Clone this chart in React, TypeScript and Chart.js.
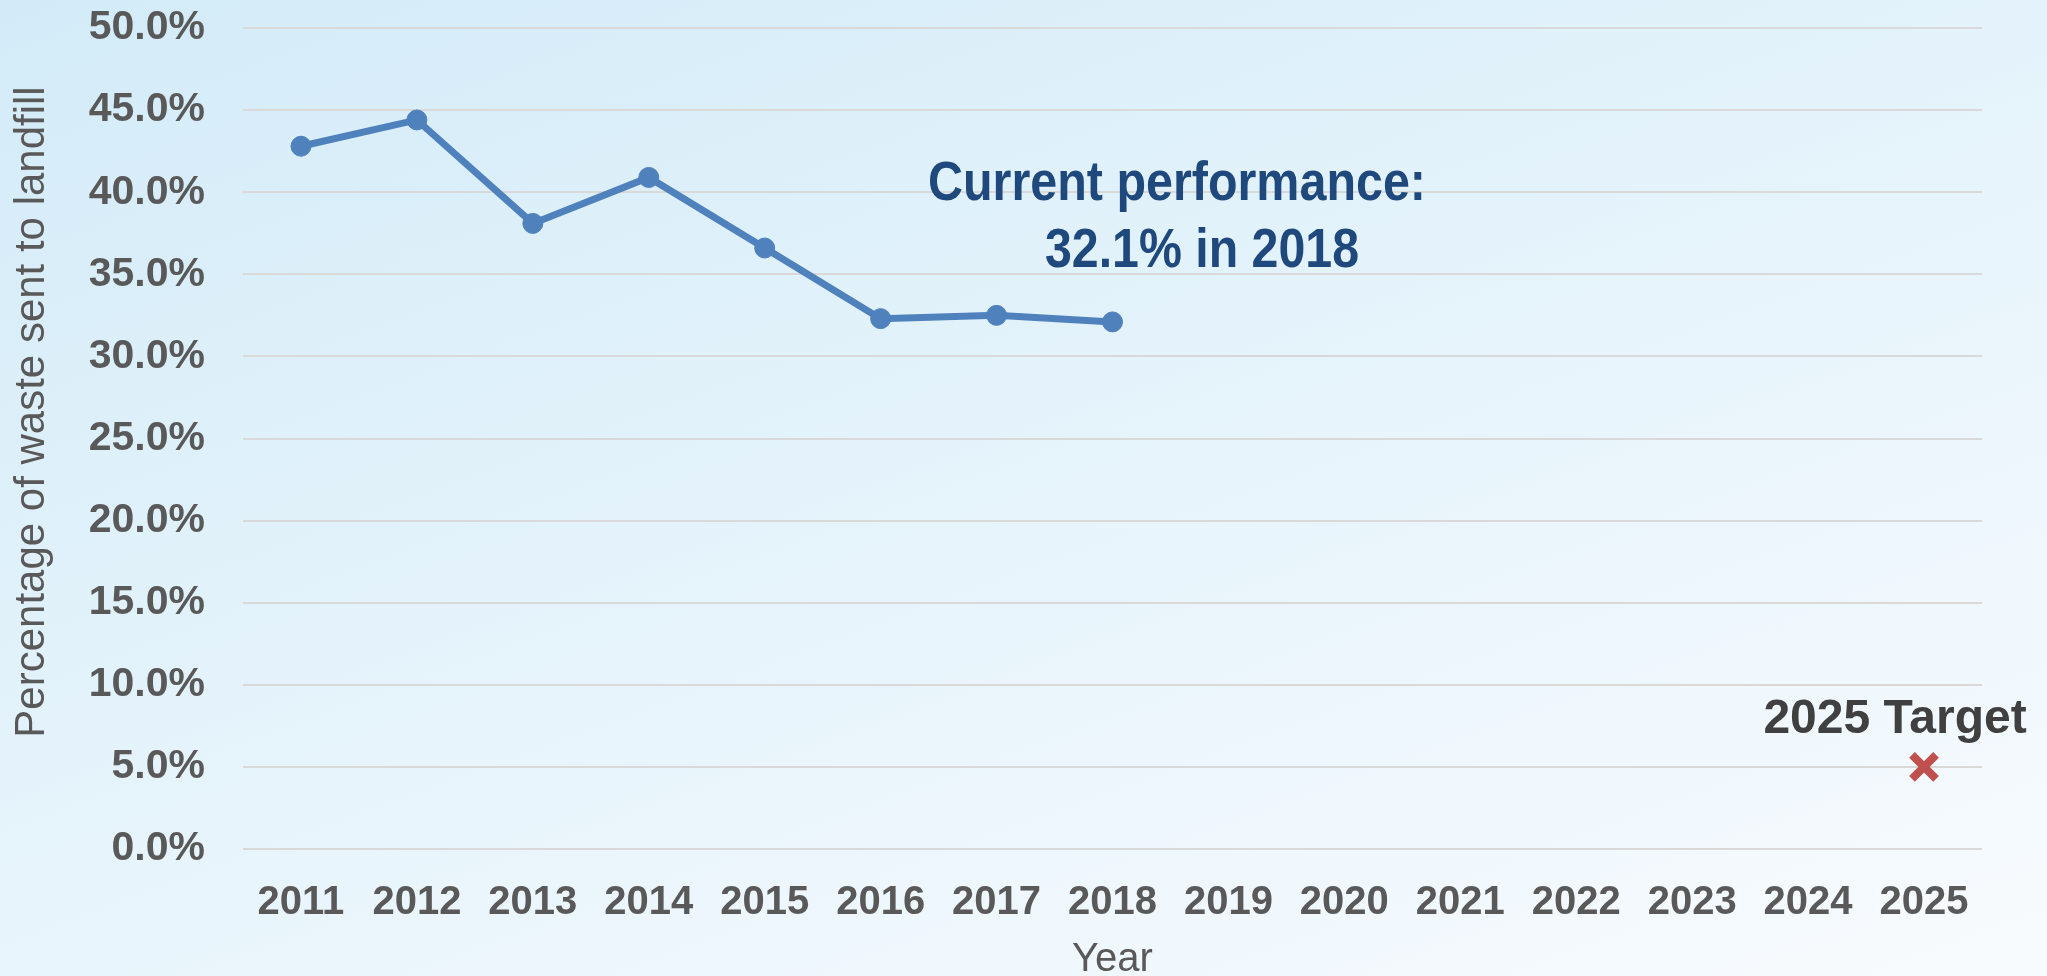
import React, { useEffect, useRef } from "react";
import { Chart, registerables } from "chart.js";

Chart.register(...registerables);

const years = ["2011", "2012", "2013", "2014", "2015", "2016", "2017", "2018", "2019", "2020", "2021", "2022", "2023", "2024", "2025"];
const landfillPct = [42.8, 44.4, 38.1, 40.9, 36.6, 32.3, 32.5, 32.1, null, null, null, null, null, null, null];
const targetPct = [null, null, null, null, null, null, null, null, null, null, null, null, null, null, 5.0];
const yTickMin = 0;
const yTickMax = 50;
const yTickStep = 5;
const yAxisTitle = "Percentage of waste sent to landfill";
const xAxisTitle = "Year";
const currentLabelLines = ["Current performance:", "32.1% in 2018"];
const targetLabel = "2025 Target";

const W = 2047;
const H = 992;
const FONT = "'Liberation Sans', Arial, sans-serif";

const annotationPlugin = {
  id: "annotations",
  afterDatasetsDraw(chart: any) {
    const ctx = chart.ctx;
    ctx.save();
    ctx.fillStyle = "#1f497d";
    ctx.font = `bold 56px ${FONT}`;
    ctx.textAlign = "center";
    ctx.textBaseline = "alphabetic";
    const lines = [
      { t: currentLabelLines[0], x: 1177, y: 200, w: 498 },
      { t: currentLabelLines[1], x: 1202, y: 267, w: 314 },
    ];
    for (const l of lines) {
      const natural = ctx.measureText(l.t).width;
      ctx.save();
      ctx.translate(l.x, l.y);
      ctx.scale(l.w / natural, 1);
      ctx.fillText(l.t, 0, 0);
      ctx.restore();
    }
    ctx.fillStyle = "#404040";
    ctx.font = `bold 48px ${FONT}`;
    ctx.fillText(targetLabel, 1895, 733);

    // y axis title
    ctx.fillStyle = "#595959";
    ctx.font = `42px ${FONT}`;
    ctx.translate(32, 412);
    ctx.rotate(-Math.PI / 2);
    ctx.textBaseline = "middle";
    ctx.fillText(yAxisTitle, 0, 0);
    ctx.restore();
  },
};

export default function App() {
  const ref = useRef<HTMLCanvasElement>(null);
  useEffect(() => {
    if (!ref.current) return;
    const chart = new Chart(ref.current, {
      type: "line",
      data: {
        labels: years,
        datasets: [
          {
            label: "Landfill",
            data: landfillPct,
            borderColor: "#4f81bd",
            backgroundColor: "#4f81bd",
            borderWidth: 7,
            pointRadius: 10,
            pointBorderWidth: 1,
            pointBackgroundColor: "#4f81bd",
            pointBorderColor: "#4f81bd",
            tension: 0,
            spanGaps: false,
          },
          {
            label: "Target",
            data: targetPct,
            showLine: false,
            pointStyle: "crossRot",
            pointRadius: 17,
            pointBorderWidth: 8,
            pointBorderColor: "#c0504d",
            pointBackgroundColor: "#c0504d",
            borderColor: "#c0504d",
          },
        ],
      },
      options: {
        responsive: false,
        animation: false,
        layout: { padding: { top: 28, right: 65, bottom: 0, left: 0 } },
        plugins: {
          legend: { display: false },
          tooltip: { enabled: false },
        },
        scales: {
          x: {
            type: "category",
            offset: true,
            grid: { display: false, drawTicks: false },
            border: { display: false },
            ticks: {
              color: "#595959",
              padding: 30,
              font: { family: FONT, size: 40, weight: "bold" },
              maxRotation: 0,
              autoSkip: false,
            },
            title: {
              display: true,
              text: xAxisTitle,
              color: "#595959",
              padding: { top: 0, bottom: 8 },
              font: { family: FONT, size: 40, weight: "normal" },
            },
            afterFit: (scale: any) => {
              scale.height = H - 849;
              scale.paddingLeft = 0;
              scale.paddingRight = 0;
            },
          },
          y: {
            min: yTickMin,
            max: yTickMax,
            grid: { color: "#d9d9d9", lineWidth: 2, drawTicks: false },
            border: { display: false },
            ticks: {
              stepSize: yTickStep,
              color: "#595959",
              padding: 38,
              font: { family: FONT, size: 41, weight: "bold" },
              callback: (v: any) => Number(v).toFixed(1) + "%",
            },
            title: { display: false },
            afterFit: (scale: any) => {
              scale.width = 243;
              scale.paddingTop = 0;
              scale.paddingBottom = 0;
            },
          },
        },
      },
      plugins: [annotationPlugin],
    });
    return () => chart.destroy();
  }, []);

  return (
    <div
      style={{
        position: "fixed",
        left: 0,
        top: 0,
        width: 2047,
        height: 976,
        overflow: "hidden",
        background: "linear-gradient(160deg, #d3ebf8 0%, #e4f3fb 45%, #f8fbfe 100%)",
      }}
    >
      <canvas ref={ref} width={W} height={H} style={{ width: W, height: H, display: "block" }} />
    </div>
  );
}
